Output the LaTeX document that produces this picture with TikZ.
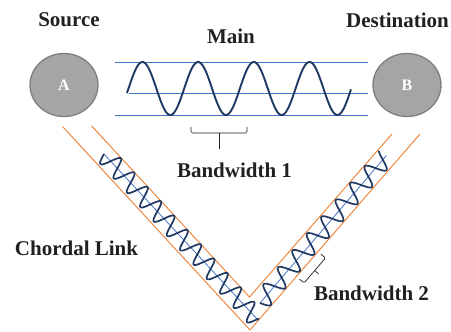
\documentclass[tikz,border=0pt]{standalone}
\usepackage{fontspec}
\setmainfont{Liberation Serif}
\usetikzlibrary{positioning, calc, shapes.geometric}
\definecolor{link-orange}{HTML}{ED7D31}
\definecolor{line-blue}{HTML}{4472C4}
\definecolor{wave-navy}{HTML}{1F3864}
\definecolor{host-gray}{HTML}{A5A5A5}
\definecolor{host-rim}{HTML}{7F7F7F}
\definecolor{label-black}{HTML}{231F20}
\tikzstyle{textlabel} = [font=\fontsize{21}{24}\selectfont\bfseries, text=label-black, inner sep=0pt]
\tikzstyle{hostnode} = [ellipse, draw=host-rim, fill=host-gray, line width=1.3pt, minimum width=68pt, minimum height=63pt, inner sep=0pt, text=white, font=\fontsize{16}{18}\selectfont\bfseries]
\tikzstyle{bandline} = [line-blue, line width=0.9pt]
\tikzstyle{mainwave} = [wave-navy, line width=1.9pt]
\tikzstyle{linkedge} = [link-orange, line width=0.9pt]
\tikzstyle{armaxis} = [line-blue, line width=0.8pt]
\tikzstyle{armwave} = [wave-navy, line width=1.7pt, line join=round]
\tikzstyle{bracemark} = [label-black, line width=0.7pt, rounded corners=1.5pt]

\begin{document}
\begin{tikzpicture}[x=1pt, y=-1pt]
    \useasboundingbox (0,0) rectangle (451,332);

    \node[hostnode] at (64,85) (src) {A};
    \node[hostnode] at (407,85) (dst) {B};
    \node[textlabel] at (69,20) (src-label) {Source};
    \node[textlabel] at (397.5,20) (dst-label) {Destination};
    \node[textlabel] at (231,36) (main-label) {Main};

    % main channel
    \draw[bandline] (115,62) -- (368,62);
    \draw[bandline] (129,93) -- (368,93);
    \draw[bandline] (115,115) -- (368,115);
    \draw[mainwave] plot[domain=127:351, samples=220, smooth] (\x, {88.5 - 26.5*sin((\x-128.5)/55.7*360)});

    \draw[bracemark] (191,127) -- (191,133) -- (247,133) -- (247,127);
    \draw[bracemark] (219,133) -- (219,149);
    \node[textlabel] at (234.5,170) (bw1-label) {Bandwidth 1};

    % chordal link
    \coordinate (outer-left) at (62.7,126.7);
    \coordinate (outer-tip) at (250,330);
    \coordinate (outer-right) at (420,134);
    \coordinate (inner-left) at (91.7,126);
    \coordinate (inner-tip) at (249.5,297);
    \coordinate (inner-right) at (392,134);
    \draw[linkedge] (outer-left) -- (outer-tip) -- (outer-right);
    \draw[linkedge] (inner-left) -- (inner-tip) -- (inner-right);

    \begin{scope}[shift={(104,154)}, rotate=-47.15]
        \draw[armaxis] (0,0) -- (227,0);
        \draw[armwave] plot[domain=0:226, samples=300] (\x, {9.5*sin(\x/19.6*360)});
    \end{scope}
    \begin{scope}[shift={(260,303)}, rotate=49.4]
        \draw[armaxis] (0,0) -- (194,0);
        \draw[armwave] plot[domain=0:193, samples=260] (\x, {9.5*sin(\x/22.2*360)});
    \end{scope}

    \draw[bracemark] (299.4,279.1) -- (304,283) -- (325.5,258) -- (320.9,254.1);
    \draw[bracemark] (314.75,270.5) -- (318.5,273.8);

    \node[textlabel] at (76.5,248) (chord-label) {Chordal Link};
    \node[textlabel] at (371.5,293) (bw2-label) {Bandwidth 2};
\end{tikzpicture}
\end{document}
